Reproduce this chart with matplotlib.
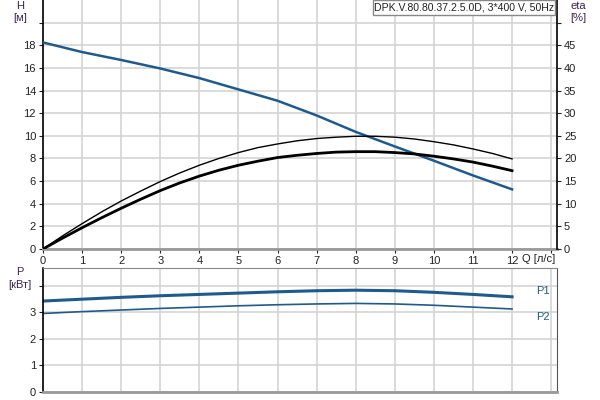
import matplotlib
matplotlib.use("Agg")
import matplotlib.pyplot as plt
from matplotlib.patches import Rectangle

plt.rcParams['font.family'] = ['Liberation Sans', 'DejaVu Sans']

q = [0, 1, 2, 3, 4, 5, 6, 7, 8, 9, 10, 11, 12]
head = [18.25, 17.4, 16.7, 15.95, 15.1, 14.1, 13.1, 11.8, 10.35, 9.06, 7.8, 6.5, 5.27]
q_eta = [0, 0.5, 1, 1.5, 2, 2.5, 3, 3.5, 4, 4.5, 5, 5.5, 6, 6.5, 7, 7.5, 8, 8.5, 9,
         9.5, 10, 10.5, 11, 11.5, 12]
eta_thin = [0, 2.9, 5.6, 8.2, 10.6, 12.8, 14.9, 16.8, 18.5, 20.0, 21.3, 22.4, 23.2,
            23.9, 24.4, 24.7, 24.9, 24.9, 24.7, 24.3, 23.7, 23.0, 22.1, 21.1, 19.9]
eta_bold = [0, 2.4, 4.7, 6.9, 9.0, 11.0, 12.9, 14.6, 16.1, 17.4, 18.5, 19.4, 20.2,
            20.7, 21.1, 21.4, 21.5, 21.5, 21.3, 21.0, 20.5, 19.9, 19.2, 18.3, 17.3]
p1 = [3.43, 3.50, 3.57, 3.63, 3.68, 3.73, 3.78, 3.82, 3.84, 3.82, 3.76, 3.68, 3.59]
p2 = [2.96, 3.03, 3.09, 3.15, 3.20, 3.25, 3.29, 3.32, 3.34, 3.32, 3.27, 3.20, 3.13]
title = "DPK.V.80.80.37.2.5.0D, 3*400 V, 50Hz"

blue = '#1f5a8f'
grid_c = '#d4d4d4'
lab_c = '#3c2350'

fig = plt.figure(figsize=(6, 4), dpi=100)
ax = fig.add_axes([43/600, 1-249/400, (557-43)/600, 249/400])
ax2 = ax.twinx()
axp = fig.add_axes([43/600, 1-391.7/400, (557-43)/600, (391.7-268)/400])

xmax = 13.15
for a in (ax, axp):
    a.set_xlim(0, xmax)
    a.set_xticks(range(0, 14))
    a.grid(True, color=grid_c, linewidth=1.2)
    a.set_axisbelow(True)
    a.tick_params(length=3, labelsize=8, colors='#222222', pad=2)
    a.spines['left'].set_color('black')
    a.spines['left'].set_linewidth(1.2)
    a.spines['bottom'].set_color('#999999')
    a.spines['bottom'].set_linewidth(2)

ax.set_ylim(0, 22)
ax.set_yticks(range(0, 22, 2))
ax.set_yticklabels([str(v) for v in range(0, 20, 2)] + [''])
ax.set_xticklabels([str(v) for v in range(0, 13)] + [''])
ax.spines['top'].set_visible(False)
ax.spines['right'].set_visible(False)

ax2.set_ylim(0, 55)
ax2.set_yticks(range(0, 55, 5))
ax2.set_yticklabels([str(v) for v in range(0, 50, 5)] + [''])
ax2.tick_params(length=3, labelsize=8, colors='#222222', pad=2)
ax2.spines['right'].set_color('black')
ax2.spines['right'].set_linewidth(1.2)
for s in ('top', 'left', 'bottom'):
    ax2.spines[s].set_visible(False)

ax.plot(q, head, color=blue, linewidth=1.8, zorder=5)
ax2.plot(q_eta, eta_thin, color='black', linewidth=1.0, zorder=5)
ax2.plot(q_eta, eta_bold, color='black', linewidth=2.0, zorder=5)

axp.set_ylim(0, 4.68)
axp.set_yticks(range(0, 5))
axp.set_yticklabels(['0', '1', '2', '3', ''])
axp.set_xticklabels([])
axp.tick_params(axis='x', length=0)
axp.spines['top'].set_color('#888888')
axp.spines['right'].set_color('#555555')
axp.plot(q, p1, color=blue, linewidth=2.2)
axp.plot(q, p2, color=blue, linewidth=1.2)

fig.text(20/600, 1-6/400, 'H', ha='center', va='center', fontsize=8, color=lab_c)
fig.text(20/600, 1-18/400, '[м]', ha='center', va='center', fontsize=8, color=lab_c)
fig.text(578/600, 1-6/400, 'eta', ha='center', va='center', fontsize=8, color=lab_c)
fig.text(578/600, 1-18/400, '[%]', ha='center', va='center', fontsize=8, color=lab_c)
fig.text(20/600, 1-272/400, 'P', ha='center', va='center', fontsize=8, color=lab_c)
fig.text(20/600, 1-285.5/400, '[кВт]', ha='center', va='center', fontsize=8, color=lab_c)
fig.text(522/600, 1-259/400, 'Q [л/с]', ha='left', va='center', fontsize=8, color='#222222')
fig.text(536/600, 1-291/400, 'P1', ha='left', va='center', fontsize=8, color=blue)
fig.text(536/600, 1-317/400, 'P2', ha='left', va='center', fontsize=8, color=blue)

fig.add_artist(Rectangle((373/600, 1-15/400), (555-373)/600, 15.5/400,
                         transform=fig.transFigure, facecolor='white',
                         edgecolor='#888888', linewidth=1, zorder=10))
fig.text(464/600, 1-7.5/400, title, ha='center', va='center', fontsize=7.6,
         color='#222222', zorder=11)

fig.savefig('out.png', dpi=100)
